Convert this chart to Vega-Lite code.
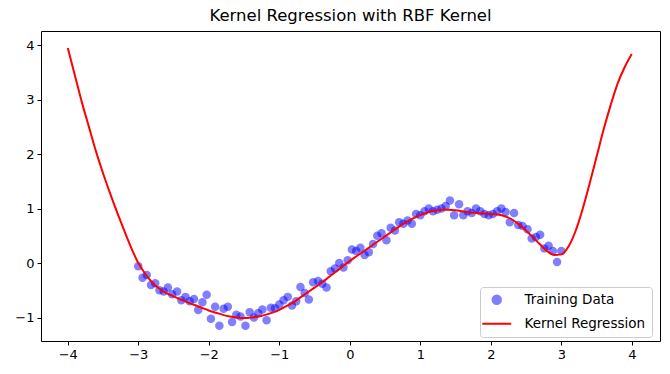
{
  "$schema": "https://vega.github.io/schema/vega-lite/v6.json",
  "width": 619,
  "height": 310,
  "autosize": {"type": "none"},
  "padding": {"left": 41, "top": 31, "right": 10, "bottom": 33},
  "background": "white",
  "title": {"text": "Kernel Regression with RBF Kernel", "font": "DejaVu Sans", "fontSize": 16.5, "fontWeight": "normal", "color": "black", "offset": 7, "anchor": "middle"},
  "config": {
    "view": {"stroke": "black", "strokeWidth": 1},
    "axis": {"grid": false, "domain": false, "tickColor": "black", "tickSize": 4, "labelFont": "DejaVu Sans", "labelFontSize": 13, "labelColor": "black", "labelPadding": 3, "title": null},
    "legend": {"labelFont": "DejaVu Sans", "labelFontSize": 13.5, "labelColor": "black", "fillColor": "white", "strokeColor": "#cccccc", "cornerRadius": 3, "padding": 6, "rowPadding": 8, "labelOffset": 21, "symbolOffset": 4}
  },
  "datasets": {
    "train": [
      {"x": -3.00, "y": -0.06}, {"x": -2.94, "y": -0.27}, {"x": -2.88, "y": -0.22}, {"x": -2.82, "y": -0.40},
      {"x": -2.76, "y": -0.37}, {"x": -2.70, "y": -0.50}, {"x": -2.64, "y": -0.52}, {"x": -2.58, "y": -0.45},
      {"x": -2.52, "y": -0.57}, {"x": -2.45, "y": -0.52}, {"x": -2.39, "y": -0.68}, {"x": -2.33, "y": -0.62},
      {"x": -2.27, "y": -0.70}, {"x": -2.21, "y": -0.66}, {"x": -2.15, "y": -0.86}, {"x": -2.09, "y": -0.72},
      {"x": -2.03, "y": -0.58}, {"x": -1.97, "y": -1.02}, {"x": -1.91, "y": -0.80}, {"x": -1.85, "y": -1.15},
      {"x": -1.79, "y": -0.84}, {"x": -1.73, "y": -0.80}, {"x": -1.67, "y": -1.08}, {"x": -1.61, "y": -0.95},
      {"x": -1.55, "y": -0.98}, {"x": -1.48, "y": -1.15}, {"x": -1.42, "y": -0.90}, {"x": -1.36, "y": -1.00},
      {"x": -1.30, "y": -0.92}, {"x": -1.24, "y": -0.85}, {"x": -1.18, "y": -1.05}, {"x": -1.12, "y": -0.82},
      {"x": -1.06, "y": -0.83}, {"x": -1.00, "y": -0.76}, {"x": -0.94, "y": -0.68}, {"x": -0.88, "y": -0.62},
      {"x": -0.82, "y": -0.78}, {"x": -0.76, "y": -0.70}, {"x": -0.70, "y": -0.44}, {"x": -0.64, "y": -0.55},
      {"x": -0.58, "y": -0.67}, {"x": -0.52, "y": -0.35}, {"x": -0.45, "y": -0.33}, {"x": -0.39, "y": -0.38},
      {"x": -0.33, "y": -0.45}, {"x": -0.27, "y": -0.15}, {"x": -0.21, "y": -0.10}, {"x": -0.15, "y": 0.00},
      {"x": -0.09, "y": -0.08}, {"x": -0.03, "y": 0.05}, {"x": 0.03, "y": 0.25}, {"x": 0.09, "y": 0.22},
      {"x": 0.15, "y": 0.28}, {"x": 0.21, "y": 0.15}, {"x": 0.27, "y": 0.20}, {"x": 0.33, "y": 0.35},
      {"x": 0.39, "y": 0.50}, {"x": 0.45, "y": 0.55}, {"x": 0.52, "y": 0.42}, {"x": 0.58, "y": 0.65},
      {"x": 0.64, "y": 0.60}, {"x": 0.70, "y": 0.75}, {"x": 0.76, "y": 0.72}, {"x": 0.82, "y": 0.78},
      {"x": 0.88, "y": 0.72}, {"x": 0.94, "y": 0.90}, {"x": 1.00, "y": 0.88}, {"x": 1.06, "y": 0.95},
      {"x": 1.12, "y": 1.00}, {"x": 1.18, "y": 0.95}, {"x": 1.24, "y": 0.98}, {"x": 1.30, "y": 1.00},
      {"x": 1.36, "y": 1.05}, {"x": 1.42, "y": 1.15}, {"x": 1.48, "y": 0.88}, {"x": 1.55, "y": 1.08},
      {"x": 1.61, "y": 0.88}, {"x": 1.67, "y": 0.95}, {"x": 1.73, "y": 0.92}, {"x": 1.79, "y": 1.00},
      {"x": 1.85, "y": 0.95}, {"x": 1.91, "y": 0.90}, {"x": 1.97, "y": 0.88}, {"x": 2.03, "y": 0.90},
      {"x": 2.09, "y": 0.95}, {"x": 2.15, "y": 1.00}, {"x": 2.21, "y": 0.94}, {"x": 2.27, "y": 0.75},
      {"x": 2.33, "y": 0.92}, {"x": 2.39, "y": 0.70}, {"x": 2.45, "y": 0.68}, {"x": 2.52, "y": 0.62},
      {"x": 2.58, "y": 0.45}, {"x": 2.64, "y": 0.48}, {"x": 2.70, "y": 0.52}, {"x": 2.76, "y": 0.27},
      {"x": 2.82, "y": 0.32}, {"x": 2.88, "y": 0.22}, {"x": 2.94, "y": 0.02}, {"x": 3.00, "y": 0.22}
    ],
    "curve": [
      {"x": -4.0, "y": 3.95}, {"x": -3.9, "y": 3.45}, {"x": -3.8, "y": 2.95}, {"x": -3.7, "y": 2.5},
      {"x": -3.6, "y": 2.05}, {"x": -3.5, "y": 1.65}, {"x": -3.4, "y": 1.28}, {"x": -3.3, "y": 0.93},
      {"x": -3.2, "y": 0.6}, {"x": -3.1, "y": 0.28}, {"x": -3.0, "y": 0.0}, {"x": -2.9, "y": -0.2},
      {"x": -2.8, "y": -0.36}, {"x": -2.7, "y": -0.47}, {"x": -2.6, "y": -0.55}, {"x": -2.5, "y": -0.61},
      {"x": -2.4, "y": -0.67}, {"x": -2.3, "y": -0.72}, {"x": -2.2, "y": -0.77}, {"x": -2.1, "y": -0.82},
      {"x": -2.0, "y": -0.87}, {"x": -1.9, "y": -0.91}, {"x": -1.8, "y": -0.95}, {"x": -1.7, "y": -0.98},
      {"x": -1.6, "y": -1.0}, {"x": -1.5, "y": -1.01}, {"x": -1.4, "y": -1.0}, {"x": -1.3, "y": -0.98},
      {"x": -1.2, "y": -0.95}, {"x": -1.1, "y": -0.91}, {"x": -1.0, "y": -0.86}, {"x": -0.9, "y": -0.79},
      {"x": -0.8, "y": -0.72}, {"x": -0.7, "y": -0.63}, {"x": -0.6, "y": -0.54}, {"x": -0.5, "y": -0.45},
      {"x": -0.4, "y": -0.36}, {"x": -0.3, "y": -0.26}, {"x": -0.2, "y": -0.16}, {"x": -0.1, "y": -0.06},
      {"x": 0.0, "y": 0.04}, {"x": 0.1, "y": 0.13}, {"x": 0.2, "y": 0.22}, {"x": 0.3, "y": 0.31},
      {"x": 0.4, "y": 0.4}, {"x": 0.5, "y": 0.49}, {"x": 0.6, "y": 0.58}, {"x": 0.7, "y": 0.67},
      {"x": 0.8, "y": 0.75}, {"x": 0.9, "y": 0.82}, {"x": 1.0, "y": 0.88}, {"x": 1.1, "y": 0.93},
      {"x": 1.2, "y": 0.96}, {"x": 1.3, "y": 0.98}, {"x": 1.4, "y": 0.98}, {"x": 1.5, "y": 0.97},
      {"x": 1.6, "y": 0.95}, {"x": 1.7, "y": 0.93}, {"x": 1.8, "y": 0.92}, {"x": 1.9, "y": 0.91},
      {"x": 2.0, "y": 0.9}, {"x": 2.1, "y": 0.89}, {"x": 2.2, "y": 0.86}, {"x": 2.3, "y": 0.8},
      {"x": 2.4, "y": 0.71}, {"x": 2.5, "y": 0.6}, {"x": 2.6, "y": 0.47}, {"x": 2.7, "y": 0.34},
      {"x": 2.8, "y": 0.22}, {"x": 2.9, "y": 0.15}, {"x": 3.0, "y": 0.16}, {"x": 3.1, "y": 0.3},
      {"x": 3.2, "y": 0.58}, {"x": 3.3, "y": 0.98}, {"x": 3.4, "y": 1.45}, {"x": 3.5, "y": 1.95},
      {"x": 3.6, "y": 2.45}, {"x": 3.7, "y": 2.9}, {"x": 3.8, "y": 3.3}, {"x": 3.9, "y": 3.6},
      {"x": 4.0, "y": 3.84}
    ]
  },
  "encoding": {
    "x": {"field": "x", "type": "quantitative", "scale": {"domain": [-4.38, 4.4], "nice": false, "zero": false}, "axis": {"values": [-4, -3, -2, -1, 0, 1, 2, 3, 4], "format": "d", "labelExpr": "replace(datum.label, '-', '\u2212')"}},
    "y": {"field": "y", "type": "quantitative", "scale": {"domain": [-1.43, 4.26], "nice": false, "zero": false}, "axis": {"values": [-1, 0, 1, 2, 3, 4], "format": "d", "labelExpr": "replace(datum.label, '-', '\u2212')"}}
  },
  "layer": [
    {
      "data": {"name": "train"},
      "mark": {"type": "point", "filled": true, "size": 72, "opacity": 0.5},
      "encoding": {
        "color": {
          "datum": "Training Data",
          "type": "nominal",
          "scale": {"domain": ["Training Data", "Kernel Regression"], "range": ["blue", "red"]},
          "legend": {
            "title": null,
            "orient": "none",
            "legendX": 439,
            "legendY": 256,
            "encode": {
              "symbols": {
                "update": {
                  "shape": {"signal": "datum.value === 'Training Data' ? 'circle' : 'M-3.4,0L3.4,0'"},
                  "fill": {"signal": "datum.value === 'Training Data' ? 'blue' : 'transparent'"},
                  "stroke": {"signal": "datum.value === 'Training Data' ? 'transparent' : 'red'"},
                  "strokeWidth": {"value": 2},
                  "opacity": {"signal": "datum.value === 'Training Data' ? 0.5 : 1"},
                  "size": {"value": 72}
                }
              }
            }
          }
        }
      }
    },
    {
      "data": {"name": "curve"},
      "mark": {"type": "line", "strokeWidth": 2, "interpolate": "monotone"},
      "encoding": {
        "color": {
          "datum": "Kernel Regression",
          "type": "nominal",
          "legend": {
            "title": null,
            "orient": "none",
            "legendX": 439,
            "legendY": 256,
            "encode": {
              "symbols": {
                "update": {
                  "shape": {"signal": "datum.value === 'Training Data' ? 'circle' : 'M-3.4,0L3.4,0'"},
                  "fill": {"signal": "datum.value === 'Training Data' ? 'blue' : 'transparent'"},
                  "stroke": {"signal": "datum.value === 'Training Data' ? 'transparent' : 'red'"},
                  "strokeWidth": {"value": 2},
                  "opacity": {"signal": "datum.value === 'Training Data' ? 0.5 : 1"},
                  "size": {"value": 72}
                }
              }
            }
          }
        }
      }
    }
  ]
}
